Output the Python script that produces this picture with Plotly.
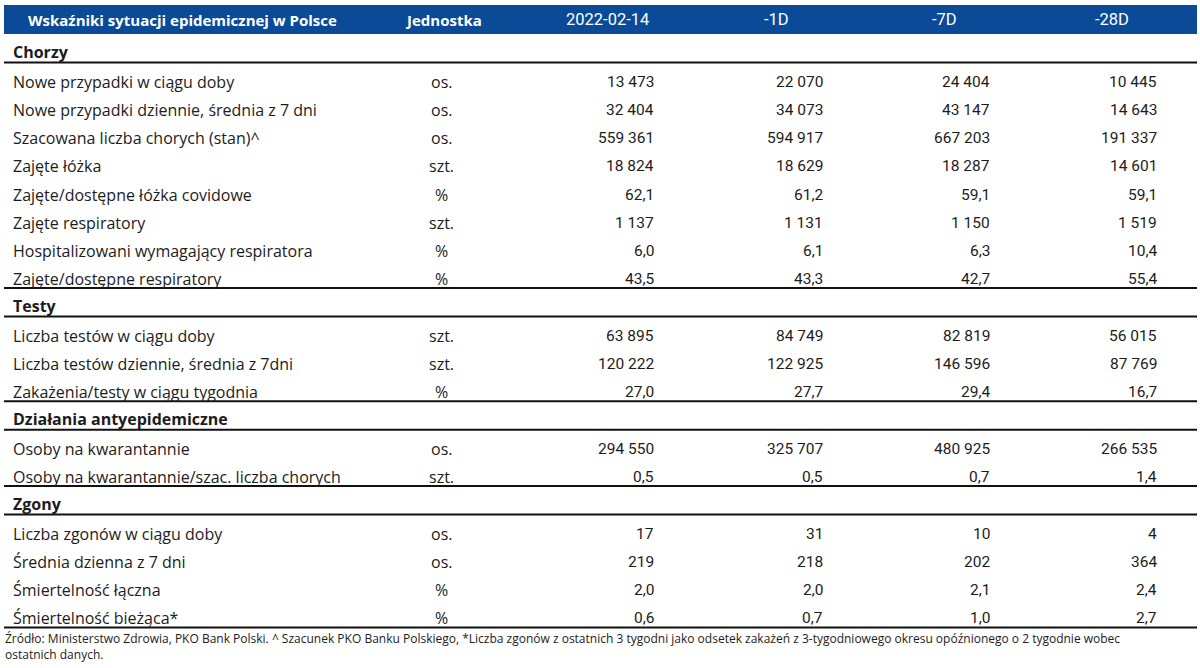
import plotly.graph_objects as go

# ---------------- data ----------------
title = "Wskaźniki sytuacji epidemicznej w Polsce"
unit_header = "Jednostka"
col_headers = ["2022-02-14", "-1D", "-7D", "-28D"]

sections = ["Chorzy", "Testy", "Działania antyepidemiczne", "Zgony"]
section_sizes = [8, 3, 2, 4]

labels = [
    "Nowe przypadki w ciągu doby",
    "Nowe przypadki dziennie, średnia z 7 dni",
    "Szacowana liczba chorych (stan)^",
    "Zajęte łóżka",
    "Zajęte/dostępne łóżka covidowe",
    "Zajęte respiratory",
    "Hospitalizowani wymagający respiratora",
    "Zajęte/dostępne respiratory",
    "Liczba testów w ciągu doby",
    "Liczba testów dziennie, średnia z 7dni",
    "Zakażenia/testy w ciągu tygodnia",
    "Osoby na kwarantannie",
    "Osoby na kwarantannie/szac. liczba chorych",
    "Liczba zgonów w ciągu doby",
    "Średnia dzienna z 7 dni",
    "Śmiertelność łączna",
    "Śmiertelność bieżąca*",
]
units = ["os.", "os.", "os.", "szt.", "%", "szt.", "%", "%",
         "szt.", "szt.", "%", "os.", "szt.", "os.", "os.", "%", "%"]
decimals = [0, 0, 0, 0, 1, 0, 1, 1, 0, 0, 1, 0, 1, 0, 0, 1, 1]

val_today = [13473, 32404, 559361, 18824, 62.1, 1137, 6.0, 43.5,
             63895, 120222, 27.0, 294550, 0.5, 17, 219, 2.0, 0.6]
val_1d = [22070, 34073, 594917, 18629, 61.2, 1131, 6.1, 43.3,
          84749, 122925, 27.7, 325707, 0.5, 31, 218, 2.0, 0.7]
val_7d = [24404, 43147, 667203, 18287, 59.1, 1150, 6.3, 42.7,
          82819, 146596, 29.4, 480925, 0.7, 10, 202, 2.1, 1.0]
val_28d = [10445, 14643, 191337, 14601, 59.1, 1519, 10.4, 55.4,
           56015, 87769, 16.7, 266535, 1.4, 4, 364, 2.4, 2.7]

footnote_lines = [
    "Źródło: Ministerstwo Zdrowia, PKO Bank Polski. ^ Szacunek PKO Banku Polskiego, "
    "*Liczba zgonów z ostatnich 3 tygodni jako odsetek zakażeń z 3-tygodniowego okresu "
    "opóźnionego o 2 tygodnie wobec",
    "ostatnich danych.",
]

# ---------------- styling / layout ----------------
W, H = 1200, 668
NAVY = "#0a4a96"
TXT = "#1c1c1c"
LABEL_FONT = "Open Sans, Noto Sans, sans-serif"
NUM_FONT = "Roboto, Liberation Sans, sans-serif"

X_LEFT, X_RIGHT = 4, 1197
X_LABEL = 12
X_UNIT = 441
VAL_RIGHT = [655, 824, 991, 1158]
HEAD_CENTER = [607, 776, 944, 1112]

BAND_TOP, BAND_BOT = 5, 34
SEC_H = 28.5
ROW_H = 28.2


def fmt(v, d):
    s = f"{v:,.{d}f}"
    return s.replace(",", " ").replace(".", ",")


shapes = []
ann = []

shapes.append(dict(type="rect", xref="x", yref="y", x0=X_LEFT, x1=X_RIGHT,
                   y0=BAND_TOP, y1=BAND_BOT, fillcolor=NAVY, line=dict(width=0),
                   layer="below"))
band_mid = (BAND_TOP + BAND_BOT) / 2
ann.append(dict(x=27, y=band_mid, text=f"<b>{title}</b>", xanchor="left",
                font=dict(family=LABEL_FONT, size=15, color="white")))
ann.append(dict(x=404, y=band_mid, text=f"<b>{unit_header}</b>", xanchor="left",
                font=dict(family=LABEL_FONT, size=15, color="white")))
for cx, h in zip(HEAD_CENTER, col_headers):
    ann.append(dict(x=cx, y=band_mid, text=h, xanchor="center",
                    font=dict(family=NUM_FONT, size=16.5, color="white")))


def hline(y):
    shapes.append(dict(type="line", xref="x", yref="y", x0=X_LEFT, x1=X_RIGHT,
                       y0=y, y1=y, line=dict(color="#111111", width=2)))


y = BAND_BOT
idx = 0
cols = [val_today, val_1d, val_7d, val_28d]
for sec, n in zip(sections, section_sizes):
    y += SEC_H
    ann.append(dict(x=X_LABEL, y=y - 10.5, text=f"<b>{sec}</b>", xanchor="left",
                    font=dict(family=LABEL_FONT, size=16, color=TXT)))
    hline(y)
    for k in range(n):
        y += ROW_H
        cy = y - 9
        ann.append(dict(x=X_LABEL, y=cy, text=labels[idx], xanchor="left",
                        font=dict(family=LABEL_FONT, size=16, color=TXT)))
        ann.append(dict(x=X_UNIT, y=cy, text=units[idx], xanchor="center",
                        font=dict(family=LABEL_FONT, size=16, color=TXT)))
        for xr, col in zip(VAL_RIGHT, cols):
            ann.append(dict(x=xr, y=cy, text=fmt(col[idx], decimals[idx]),
                            xanchor="right",
                            font=dict(family=NUM_FONT, size=15.5, color=TXT)))
        idx += 1
    hline(y)

for i, line in enumerate(footnote_lines):
    ann.append(dict(x=X_LEFT, y=y + 11 + i * 16, text=line, xanchor="left",
                    font=dict(family=LABEL_FONT, size=12, color=TXT)))

for a in ann:
    a.setdefault("yanchor", "middle")
    a.update(xref="x", yref="y", showarrow=False, borderpad=0)

fig = go.Figure()
fig.add_trace(go.Scatter(x=[0, W], y=[0, H], mode="markers",
                         marker=dict(opacity=0), hoverinfo="skip",
                         showlegend=False))
fig.update_layout(
    width=W, height=H,
    margin=dict(l=0, r=0, t=0, b=0),
    paper_bgcolor="white", plot_bgcolor="white",
    xaxis=dict(range=[0, W], visible=False, fixedrange=True),
    yaxis=dict(range=[H, 0], visible=False, fixedrange=True),
    shapes=shapes, annotations=ann, showlegend=False,
)
fig.write_html(
    "out.html",
    config={"displayModeBar": False},
    post_script="document.body.style.margin='0';document.body.style.overflow='hidden';",
)
